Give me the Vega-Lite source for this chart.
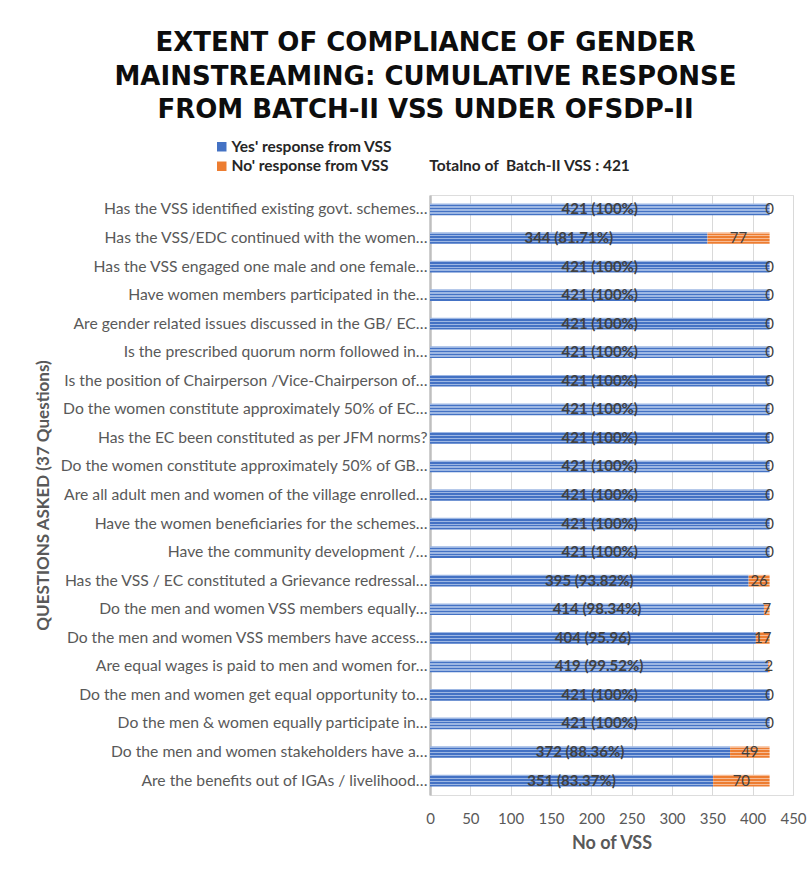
{
  "$schema": "https://vega.github.io/schema/vega-lite/v6.json",
  "width": 363,
  "height": 600,
  "autosize": {"type": "none"},
  "padding": {"left": 430, "top": 195, "right": 17, "bottom": 79},
  "background": "white",
  "title": {
    "text": ["EXTENT OF COMPLIANCE OF GENDER", "MAINSTREAMING: CUMULATIVE RESPONSE", "FROM BATCH-II VSS UNDER OFSDP-II"],
    "font": "DejaVu Sans",
    "fontSize": 26,
    "fontWeight": "bold",
    "color": "#0d0d0d",
    "lineHeight": 33.5,
    "anchor": "middle",
    "frame": "group",
    "dx": -186,
    "offset": 16
  },
  "data": {
    "values": [
      {"q": "Has the VSS identified existing govt. schemes…", "yes": 421, "no": 0, "total": 421, "yesLabel": "421 (100%)", "noLabel": "0"},
      {"q": "Has the VSS/EDC continued with the women…", "yes": 344, "no": 77, "total": 421, "yesLabel": "344 (81.71%)", "noLabel": "77"},
      {"q": "Has the VSS engaged one male and one female…", "yes": 421, "no": 0, "total": 421, "yesLabel": "421 (100%)", "noLabel": "0"},
      {"q": "Have women members participated in the…", "yes": 421, "no": 0, "total": 421, "yesLabel": "421 (100%)", "noLabel": "0"},
      {"q": "Are gender related issues discussed in the GB/ EC…", "yes": 421, "no": 0, "total": 421, "yesLabel": "421 (100%)", "noLabel": "0"},
      {"q": "Is the prescribed quorum norm followed in…", "yes": 421, "no": 0, "total": 421, "yesLabel": "421 (100%)", "noLabel": "0"},
      {"q": "Is the position of Chairperson /Vice-Chairperson of…", "yes": 421, "no": 0, "total": 421, "yesLabel": "421 (100%)", "noLabel": "0"},
      {"q": "Do the women constitute approximately 50% of EC…", "yes": 421, "no": 0, "total": 421, "yesLabel": "421 (100%)", "noLabel": "0"},
      {"q": "Has the EC been constituted as per JFM norms?", "yes": 421, "no": 0, "total": 421, "yesLabel": "421 (100%)", "noLabel": "0"},
      {"q": "Do the women constitute approximately 50% of GB…", "yes": 421, "no": 0, "total": 421, "yesLabel": "421 (100%)", "noLabel": "0"},
      {"q": "Are all adult men and women of the village enrolled…", "yes": 421, "no": 0, "total": 421, "yesLabel": "421 (100%)", "noLabel": "0"},
      {"q": "Have the women beneficiaries for the schemes…", "yes": 421, "no": 0, "total": 421, "yesLabel": "421 (100%)", "noLabel": "0"},
      {"q": "Have the community development /…", "yes": 421, "no": 0, "total": 421, "yesLabel": "421 (100%)", "noLabel": "0"},
      {"q": "Has the VSS / EC constituted a Grievance redressal…", "yes": 395, "no": 26, "total": 421, "yesLabel": "395 (93.82%)", "noLabel": "26"},
      {"q": "Do the men and women VSS members equally…", "yes": 414, "no": 7, "total": 421, "yesLabel": "414 (98.34%)", "noLabel": "7"},
      {"q": "Do the men and women VSS members have access…", "yes": 404, "no": 17, "total": 421, "yesLabel": "404 (95.96)", "noLabel": "17"},
      {"q": "Are equal wages is paid to men and women for…", "yes": 419, "no": 2, "total": 421, "yesLabel": "419 (99.52%)", "noLabel": "2"},
      {"q": "Do the men and women get equal opportunity to…", "yes": 421, "no": 0, "total": 421, "yesLabel": "421 (100%)", "noLabel": "0"},
      {"q": "Do the men & women equally participate in…", "yes": 421, "no": 0, "total": 421, "yesLabel": "421 (100%)", "noLabel": "0"},
      {"q": "Do the men and women stakeholders have a…", "yes": 372, "no": 49, "total": 421, "yesLabel": "372 (88.36%)", "noLabel": "49"},
      {"q": "Are the benefits out of IGAs / livelihood…", "yes": 351, "no": 70, "total": 421, "yesLabel": "351 (83.37%)", "noLabel": "70"}
    ]
  },
  "layer": [
    {
      "mark": {
        "type": "bar",
        "fill": {
          "gradient": "linear", "x1": 0, "y1": 0, "x2": 0, "y2": 1,
          "stops": [
            {"offset": 0, "color": "#9db7e3"}, {"offset": 0.12, "color": "#9db7e3"},
            {"offset": 0.12, "color": "#4472C4"}, {"offset": 0.25, "color": "#4472C4"},
            {"offset": 0.25, "color": "#9db7e3"}, {"offset": 0.37, "color": "#9db7e3"},
            {"offset": 0.37, "color": "#4472C4"}, {"offset": 0.5, "color": "#4472C4"},
            {"offset": 0.5, "color": "#9db7e3"}, {"offset": 0.62, "color": "#9db7e3"},
            {"offset": 0.62, "color": "#4472C4"}, {"offset": 0.75, "color": "#4472C4"},
            {"offset": 0.75, "color": "#9db7e3"}, {"offset": 0.87, "color": "#9db7e3"},
            {"offset": 0.87, "color": "#4472C4"}, {"offset": 1, "color": "#4472C4"}
          ]
        }
      },
      "encoding": {
        "y": {
          "field": "q", "type": "nominal", "sort": null,
          "scale": {"paddingInner": 0.59, "paddingOuter": 0.3},
          "axis": {
            "title": "QUESTIONS ASKED (37 Questions)",
            "titleFont": "Lato", "titleFontSize": 17, "titleFontWeight": "bold", "titleColor": "#595959",
            "titleX": -387, "titleBaseline": "middle",
            "labelFont": "Lato", "labelFontSize": 15.7, "labelColor": "#595959", "labelLimit": 420,
            "labelPadding": 3, "ticks": false, "domainColor": "#bfbfbf", "domainWidth": 2.5
          }
        },
        "x": {
          "field": "yes", "type": "quantitative",
          "scale": {"domain": [0, 450], "nice": false},
          "axis": {
            "title": "No of VSS", "values": [0, 50, 100, 150, 200, 250, 300, 350, 400, 450],
            "titleFont": "Lato", "titleFontSize": 18, "titleFontWeight": "bold", "titleColor": "#595959",
            "titlePadding": 8,
            "labelFont": "Lato", "labelFontSize": 15, "labelColor": "#595959", "labelPadding": 16,
            "labelOverlap": false, "labelFlush": false,
            "ticks": false, "domain": false, "grid": true, "gridColor": "#d9d9d9"
          }
        }
      }
    },
    {
      "mark": {
        "type": "bar",
        "fill": {
          "gradient": "linear", "x1": 0, "y1": 0, "x2": 0, "y2": 1,
          "stops": [
            {"offset": 0, "color": "#f6bb95"}, {"offset": 0.12, "color": "#f6bb95"},
            {"offset": 0.12, "color": "#ED7D31"}, {"offset": 0.25, "color": "#ED7D31"},
            {"offset": 0.25, "color": "#f6bb95"}, {"offset": 0.37, "color": "#f6bb95"},
            {"offset": 0.37, "color": "#ED7D31"}, {"offset": 0.5, "color": "#ED7D31"},
            {"offset": 0.5, "color": "#f6bb95"}, {"offset": 0.62, "color": "#f6bb95"},
            {"offset": 0.62, "color": "#ED7D31"}, {"offset": 0.75, "color": "#ED7D31"},
            {"offset": 0.75, "color": "#f6bb95"}, {"offset": 0.87, "color": "#f6bb95"},
            {"offset": 0.87, "color": "#ED7D31"}, {"offset": 1, "color": "#ED7D31"}
          ]
        }
      },
      "encoding": {
        "y": {"field": "q", "type": "nominal", "sort": null},
        "x": {"field": "yes", "type": "quantitative"},
        "x2": {"field": "total"}
      }
    },
    {
      "transform": [{"fold": ["yes", "no"], "as": ["key", "value"]}],
      "mark": {"type": "text", "font": "Lato", "fontSize": 15, "fontWeight": "bold", "color": "#404040"},
      "encoding": {
        "y": {"field": "q", "type": "nominal", "sort": null},
        "x": {"field": "value", "type": "quantitative", "stack": "zero", "bandPosition": 0.5},
        "order": {"field": "key", "sort": "descending"},
        "detail": {"field": "key"},
        "text": {"condition": {"test": "datum.key === 'yes'", "field": "yesLabel"}, "value": ""}
      }
    },
    {
      "transform": [{"fold": ["yes", "no"], "as": ["key", "value"]}],
      "mark": {"type": "text", "font": "Lato", "fontSize": 15, "color": "#404040"},
      "encoding": {
        "y": {"field": "q", "type": "nominal", "sort": null},
        "x": {"field": "value", "type": "quantitative", "stack": "zero", "bandPosition": 0.5},
        "order": {"field": "key", "sort": "descending"},
        "detail": {"field": "key"},
        "text": {"condition": {"test": "datum.key === 'no'", "field": "noLabel"}, "value": ""}
      }
    },
    {
      "transform": [{"fold": ["yes", "no"], "as": ["key", "value"]}, {"filter": "false"}],
      "mark": {"type": "point", "filled": true, "shape": "square"},
      "encoding": {
        "color": {
          "field": "key", "type": "nominal",
          "scale": {"domain": ["yes", "no"], "range": ["#4472C4", "#ED7D31"]},
          "legend": {
            "title": null, "orient": "none", "legendX": -216, "legendY": -56,
            "symbolType": "square", "symbolSize": 90, "symbolOpacity": 1,
            "labelFont": "Lato", "labelFontSize": 15.5, "labelFontWeight": "bold", "labelColor": "#262626",
            "labelLimit": 600, "rowPadding": 2.5, "labelOffset": 2,
            "labelExpr": "datum.label === 'yes' ? 'Yes\\' response from VSS' : 'No\\' response from VSS\u00a0\u00a0\u00a0\u00a0\u00a0\u00a0\u00a0\u00a0\u00a0\u00a0\u00a0Totalno of\u00a0\u00a0Batch-II VSS : 421'"
          }
        }
      }
    }
  ]
}
